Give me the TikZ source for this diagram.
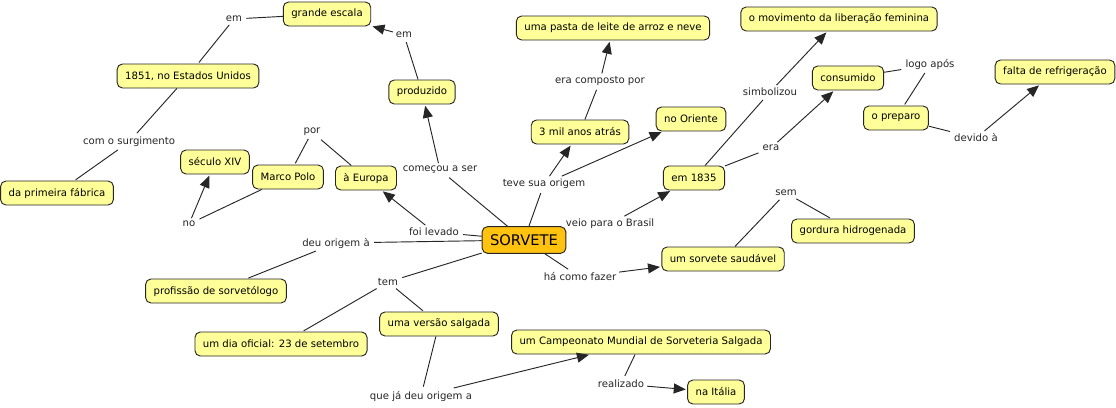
\documentclass[tikz,border=0pt]{standalone}
\usepackage{fontspec}
\setmainfont{DejaVu Sans}
\usepackage{xcolor}
\usetikzlibrary{arrows.meta}

\definecolor{conceptfill}{HTML}{FFFF99}
\definecolor{rootfill}{HTML}{FFC20E}

\begin{document}
\begin{tikzpicture}[x=0.75pt, y=-0.75pt, >={Triangle[length=9pt,width=7.5pt]},
  font=\fontsize{7.6}{9}\selectfont,
  concept/.style={draw=black!85, fill=conceptfill, rounded corners=4pt, line width=0.7pt,
    minimum height=18pt, inner xsep=6pt},
  link/.style={inner sep=2pt, text=black!85},
  conn/.style={draw=black!85, line width=0.7pt, shorten >=1pt}]
  \useasboundingbox (0,0) rectangle (1116,407);

  % concepts
  \node[concept] (escala) at (327,14) {grande escala};
  \node[concept] (eua) at (188,76) {1851, no Estados Unidos};
  \node[concept] (fabrica) at (57,193) {da primeira fábrica};
  \node[concept] (seculo) at (215,162) {século XIV};
  \node[concept] (polo) at (288,177) {Marco Polo};
  \node[concept] (europa) at (366,178) {à Europa};
  \node[concept] (produzido) at (422,92) {produzido};
  \node[concept] (pasta) at (613,28) {uma pasta de leite de arroz e neve};
  \node[concept] (milanos) at (580,132) {3 mil anos atrás};
  \node[concept] (oriente) at (691,119) {no Oriente};
  \node[concept] (movimento) at (839,19) {o movimento da liberação feminina};
  \node[concept] (consumido) at (848,78) {consumido};
  \node[concept] (preparo) at (896,118) {o preparo};
  \node[concept] (refrig) at (1055,72) {falta de refrigeração};
  \node[concept] (em1835) at (694,178) {em 1835};
  \node[concept, fill=rootfill, minimum height=20pt, font=\fontsize{11}{13}\selectfont] (sorvete) at (524,240) {SORVETE};
  \node[concept] (saudavel) at (723,259) {um sorvete saudável};
  \node[concept] (gordura) at (853,231) {gordura hidrogenada};
  \node[concept] (profissao) at (216,291) {profissão de sorvetólogo};
  \node[concept] (dia) at (281,344) {um dia oficial: 23 de setembro};
  \node[concept] (salgada) at (439,324) {uma versão salgada};
  \node[concept] (campeonato) at (641,342) {um Campeonato Mundial de Sorveteria Salgada};
  \node[concept] (italia) at (716,392) {na Itália};

  % linking phrases
  \node[link] (em1) at (234,19) {em};
  \node[link] (em2) at (404,35) {em};
  \node[link] (surgimento) at (129,142) {com o surgimento};
  \node[link] (por) at (312,132) {por};
  \node[link] (no) at (189,224) {no};
  \node[link] (comecou) at (440,170) {começou a ser};
  \node[link] (origem) at (544,184) {teve sua origem};
  \node[link] (composto) at (600,81) {era composto por};
  \node[link] (simbolizou) at (770,92) {simbolizou};
  \node[link] (era) at (771,148) {era};
  \node[link] (logo) at (930,65) {logo após};
  \node[link] (devido) at (976,138) {devido à};
  \node[link] (levado) at (434,232) {foi levado};
  \node[link] (brasil) at (610,224) {veio para o Brasil};
  \node[link] (deu) at (336,243) {deu origem à};
  \node[link] (tem) at (388,282) {tem};
  \node[link] (fazer) at (580,277) {há como fazer};
  \node[link] (sem) at (786,193) {sem};
  \node[link] (jadeu) at (421,396) {que já deu origem a};
  \node[link] (realizado) at (621,384) {realizado};

  % connections
  \draw[conn] (produzido) -- (em2);
  \draw[conn,->] (em2) -- (escala);
  \draw[conn] (escala) -- (em1);
  \draw[conn] (em1) -- (eua);
  \draw[conn] (eua) -- (surgimento);
  \draw[conn] (surgimento) -- (fabrica);
  \draw[conn] (sorvete) -- (comecou);
  \draw[conn,->] (comecou) -- (produzido);
  \draw[conn] (sorvete) -- (levado);
  \draw[conn,->] (levado) -- (europa);
  \draw[conn] (europa) -- (por);
  \draw[conn] (por) -- (polo);
  \draw[conn] (polo) -- (no);
  \draw[conn,->] (no) -- (seculo);
  \draw[conn] (sorvete) -- (origem);
  \draw[conn,->] (origem) -- (milanos);
  \draw[conn,->] (origem) -- (oriente);
  \draw[conn] (milanos) -- (composto);
  \draw[conn,->] (composto) -- (pasta);
  \draw[conn] (sorvete) -- (brasil);
  \draw[conn,->] (brasil) -- (em1835);
  \draw[conn] (em1835) -- (simbolizou);
  \draw[conn,->] (simbolizou) -- (movimento);
  \draw[conn] (em1835) -- (era);
  \draw[conn,->] (era) -- (consumido);
  \draw[conn] (consumido) -- (logo);
  \draw[conn] (logo) -- (preparo);
  \draw[conn] (preparo) -- (devido);
  \draw[conn,->] (devido) -- (refrig);
  \draw[conn] (sorvete) -- (deu);
  \draw[conn] (deu) -- (profissao);
  \draw[conn] (sorvete) -- (tem);
  \draw[conn] (tem) -- (dia);
  \draw[conn] (tem) -- (salgada);
  \draw[conn] (sorvete) -- (fazer);
  \draw[conn,->] (fazer) -- (saudavel);
  \draw[conn] (saudavel) -- (sem);
  \draw[conn] (sem) -- (gordura);
  \draw[conn] (salgada) -- (jadeu);
  \draw[conn,->] (jadeu) -- (campeonato);
  \draw[conn] (campeonato) -- (realizado);
  \draw[conn,->] (realizado) -- (italia);
\end{tikzpicture}
\end{document}
